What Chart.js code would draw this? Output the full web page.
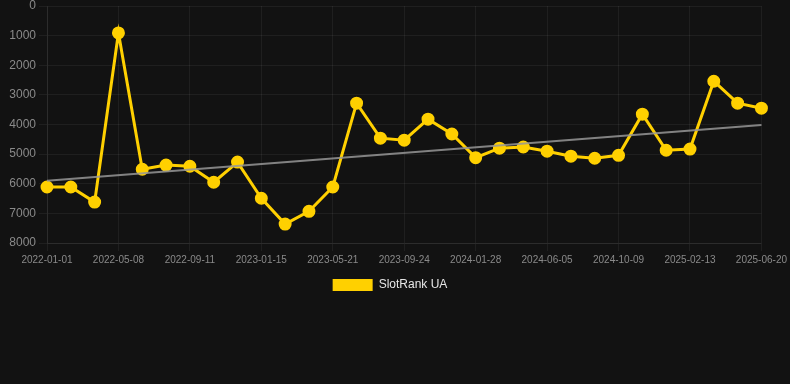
<!DOCTYPE html>
<html>
<head>
<meta charset="utf-8">
<script src="https://cdn.jsdelivr.net/npm/chart.js@4"></script>
<style>
html,body{margin:0;padding:0;background:#121212;overflow:hidden;}
#wrap{position:relative;width:790px;height:303px;margin-top:-2px;}
</style>
</head>
<body>
<div id="wrap"><canvas id="c"></canvas></div>
<script>
const categories = ['2022-01-01','2022-02-12','2022-03-26','2022-05-08','2022-06-19','2022-07-31','2022-09-11','2022-10-23','2022-12-04','2023-01-15','2023-02-26','2023-04-09','2023-05-21','2023-07-02','2023-08-13','2023-09-24','2023-11-05','2023-12-17','2024-01-28','2024-03-10','2024-04-22','2024-06-05','2024-07-17','2024-08-28','2024-10-09','2024-11-20','2025-01-01','2025-02-13','2025-03-27','2025-05-08','2025-06-20'];
const rankValues = [6110,6110,6620,910,5510,5370,5410,5950,5270,6490,7360,6930,6110,3280,4460,4530,3820,4320,5120,4800,4760,4900,5070,5140,5040,3650,4870,4830,2540,3280,3450];
const trendStart = 5900;
const trendEnd = 4020;
const yTicks = [0,1000,2000,3000,4000,5000,6000,7000,8000];
const seriesName = 'SlotRank UA';

const grid = 'rgba(255,255,255,0.06)';
new Chart(document.getElementById('c'), {
  type: 'line',
  data: {
    labels: categories,
    datasets: [
      {
        label: seriesName,
        data: rankValues,
        borderColor: '#FFD000',
        backgroundColor: '#FFD000',
        borderWidth: 3,
        pointRadius: 5,
        pointHoverRadius: 5,
        pointBackgroundColor: '#FFD000',
        pointBorderColor: '#FFD000',
        tension: 0,
        order: 2
      },
      {
        label: 'trend',
        data: [{x: categories[0], y: trendStart}, {x: categories[categories.length-1], y: trendEnd}],
        borderColor: 'rgba(150,150,150,0.85)',
        borderWidth: 2,
        pointRadius: 0,
        fill: false,
        order: 1
      }
    ]
  },
  options: {
    responsive: true,
    maintainAspectRatio: false,
    animation: false,
    plugins: {
      legend: {
        position: 'bottom',
        labels: {
          color: '#e6e6e6',
          boxWidth: 40,
          font: {family: 'Liberation Sans, Arial, sans-serif', size: 12},
          generateLabels: (chart) => Chart.defaults.plugins.legend.labels.generateLabels(chart)
            .filter(it => it.text === seriesName)
            .map(it => Object.assign(it, {text: it.text + '   ', lineWidth: 0}))
        }
      },
      tooltip: {enabled: false}
    },
    scales: {
      x: {
        type: 'category',
        offset: false,
        grid: {
          color: (ctx) => (ctx.index % 3 === 0 ? grid : 'rgba(0,0,0,0)')
        },
        border: {color: grid},
        ticks: {
          autoSkip: false,
          maxRotation: 0,
          color: '#8a8a8a',
          font: {family: 'Liberation Sans, Arial, sans-serif', size: 10},
          callback: function(v, i) { return i % 3 === 0 ? categories[i] : ''; }
        }
      },
      y: {
        reverse: true,
        min: yTicks[0],
        max: yTicks[yTicks.length-1],
        afterBuildTicks: (s) => { s.ticks = yTicks.map(v => ({value: v})); },
        afterFit: (s) => { s.width = 47; },
        grid: {color: grid},
        border: {color: grid},
        ticks: {
          color: '#8a8a8a',
          font: {family: 'Liberation Sans, Arial, sans-serif', size: 12, lineHeight: 0.2},
          callback: (v) => String(v)
        }
      }
    }
  }
});
</script>
</body>
</html>
